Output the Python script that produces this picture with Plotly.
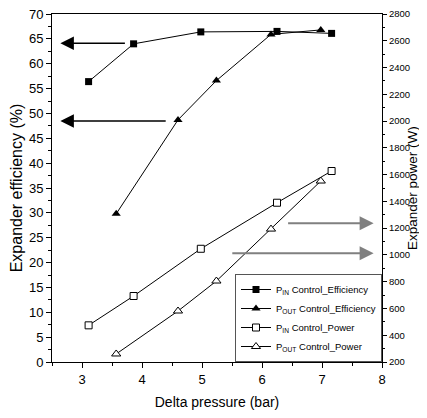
import plotly.graph_objects as go

# Data
pin_eff_x = [3.11, 3.86, 4.98, 6.25, 7.16]
pin_eff_y = [56.4, 64.0, 66.4, 66.5, 66.1]
pout_eff_x = [3.57, 4.60, 5.24, 6.15, 6.98]
pout_eff_y = [29.8, 48.7, 56.6, 65.9, 66.8]
pin_pow_x = [3.11, 3.86, 4.98, 6.25, 7.16]
pin_pow_y = [474, 693, 1046, 1390, 1627]
pout_pow_x = [3.57, 4.60, 5.24, 6.15, 6.98]
pout_pow_y = [260, 581, 805, 1193, 1552]

names = ["P<sub>IN</sub> Control_Efficiency", "P<sub>OUT</sub> Control_Efficiency",
         "P<sub>IN</sub> Control_Power", "P<sub>OUT</sub> Control_Power"]

# arrows: (from_x, to_x, y)
eff_arrows = [(3.74, 2.64, 64.1), (4.42, 2.64, 48.5)]
pow_arrows = [(6.41, 7.86, 1236), (5.48, 7.86, 1012)]

FONT = "Liberation Sans Narrow, Arial Narrow, Liberation Sans, Arial, sans-serif"
TFONT = "Liberation Sans, Arial, sans-serif"

fig = go.Figure()
fig.add_trace(go.Scatter(x=pin_eff_x, y=pin_eff_y, mode="lines+markers", name=names[0],
                         line=dict(color="black", width=1),
                         marker=dict(symbol="square", size=7, color="black")))
fig.add_trace(go.Scatter(x=pout_eff_x, y=pout_eff_y, mode="lines+markers", name=names[1],
                         line=dict(color="black", width=1),
                         marker=dict(symbol="triangle-up", size=8, color="black")))
fig.add_trace(go.Scatter(x=pin_pow_x, y=pin_pow_y, mode="lines+markers", name=names[2], yaxis="y2",
                         line=dict(color="black", width=1),
                         marker=dict(symbol="square", size=7, color="white", line=dict(color="black", width=1))))
fig.add_trace(go.Scatter(x=pout_pow_x, y=pout_pow_y, mode="lines+markers", name=names[3], yaxis="y2",
                         line=dict(color="black", width=1),
                         marker=dict(symbol="triangle-up", size=8, color="white", line=dict(color="black", width=1))))

annotations = []
for fx, tx, yy in eff_arrows:
    annotations.append(dict(x=tx, y=yy, ax=fx, ay=yy, xref="x", yref="y", axref="x", ayref="y",
                            showarrow=True, arrowhead=2, arrowsize=1.8, arrowwidth=1.5,
                            arrowcolor="black", text=""))
for fx, tx, yy in pow_arrows:
    annotations.append(dict(x=tx, y=yy, ax=fx, ay=yy, xref="x", yref="y2", axref="x", ayref="y2",
                            showarrow=True, arrowhead=2, arrowsize=1.4, arrowwidth=2,
                            arrowcolor="#808080", text=""))
annotations.append(dict(text="Expander power (W)", xref="paper", yref="paper", x=1.0, y=0.5,
                        xanchor="center", yanchor="middle", xshift=30, textangle=-90,
                        showarrow=False, font=dict(size=13.5, family=TFONT, color="black")))

# page body has an 8px margin, so the figure is sized to fit inside the viewport
fig.update_layout(
    width=411, height=402,
    margin=dict(l=44, r=37, t=6, b=48, autoexpand=False),
    paper_bgcolor="white", plot_bgcolor="white",
    font=dict(family=FONT, color="black", size=12),
    showlegend=True,
    legend=dict(x=1.0, y=0.0, xanchor="right", yanchor="bottom",
                bgcolor="white", bordercolor="#555555", borderwidth=1,
                font=dict(size=9.5, family=FONT), tracegroupgap=0, itemwidth=30),
    xaxis=dict(range=[2.5, 8], tickvals=[3, 4, 5, 6, 7, 8], showgrid=False, zeroline=False,
               showline=True, linecolor="black", linewidth=1, mirror=True,
               ticks="outside", ticklen=5, tickcolor="black",
               minor=dict(dtick=0.5, ticks="outside", ticklen=3, tickcolor="black"),
               title=dict(text="Delta pressure (bar)", font=dict(size=14), standoff=11),
               tickfont=dict(size=13), ticklabeloverflow="allow"),
    yaxis=dict(range=[0, 70], dtick=5, showgrid=False, zeroline=False,
               showline=True, linecolor="black", linewidth=1,
               ticks="outside", ticklen=5, tickcolor="black",
               minor=dict(dtick=2.5, ticks="outside", ticklen=3, tickcolor="black"),
               title=dict(text="Expander efficiency (%)", font=dict(size=16, family=TFONT), standoff=2),
               tickfont=dict(size=13), ticklabeloverflow="allow"),
    yaxis2=dict(range=[200, 2800], dtick=200, overlaying="y", side="right", showgrid=False,
                zeroline=False, showline=True, linecolor="black", linewidth=1,
                ticks="outside", ticklen=4, tickcolor="black",
                minor=dict(dtick=100, ticks="outside", ticklen=2, tickcolor="black"),
                tickfont=dict(size=9.5), ticklabeloverflow="allow"),
    annotations=annotations,
)

fig.write_html("out.html")
